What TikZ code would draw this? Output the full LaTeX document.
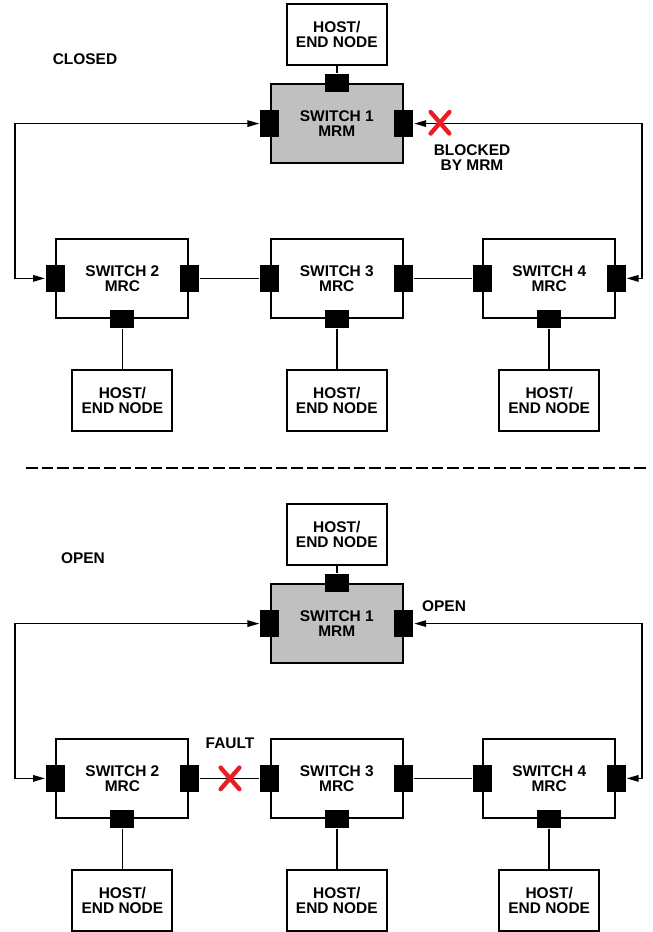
\documentclass[tikz,border=0pt]{standalone}
\usepackage{fontspec}
\setmainfont{Liberation Sans}
\usetikzlibrary{arrows.meta,shapes.misc}
\definecolor{swgray}{RGB}{192,192,192}
\definecolor{xred}{RGB}{237,28,36}

\begin{document}
\begin{tikzpicture}[
  line width=1.2pt,  font=\fontsize{11}{10.8}\selectfont\bfseries,
  switch/.style={rectangle,draw,line width=1.4pt,minimum width=3.3cm,minimum height=1.975cm,inner sep=0pt,align=center},
  mrm/.style={switch,fill=swgray},
  host/.style={rectangle,draw,line width=1.4pt,minimum width=2.5cm,minimum height=1.525cm,inner sep=0pt,align=center},
  sport/.style={rectangle,fill=black,inner sep=0pt,minimum width=0.475cm,minimum height=0.675cm},
  hport/.style={rectangle,fill=black,inner sep=0pt,minimum width=0.6cm,minimum height=0.45cm},
  link/.style={line width=1.2pt},
  ring/.style={link,{Triangle[length=0.3cm,width=0.16cm]}-{Triangle[length=0.3cm,width=0.16cm]}},
  xmark/.style={cross out,draw=xred,line width=3.1pt,line cap=round,minimum width=0.36cm,minimum height=0.43cm,inner sep=0pt},
  divider/.style={line width=1.9pt,dash pattern=on 0.29cm off 0.1cm},
  tag/.style={align=center,inner sep=0pt}
]
  \useasboundingbox (0,0) rectangle (16.3,23.3);
  % closed ring
  \node[tag] (closed) at (2.125,21.825) {CLOSED};
  \node[host] (ha1) at (8.42,22.44) {HOST/\\END NODE};
  \node[mrm] (a1) at (8.42,20.21) {SWITCH 1\\MRM};
  \node[switch] (a2) at (3.06,16.34) {SWITCH 2\\MRC};
  \node[switch] (a3) at (8.42,16.34) {SWITCH 3\\MRC};
  \node[switch] (a4) at (13.73,16.34) {SWITCH 4\\MRC};
  \node[host] (ha2) at (3.06,13.29) {HOST/\\END NODE};
  \node[host] (ha3) at (8.42,13.29) {HOST/\\END NODE};
  \node[host] (ha4) at (13.73,13.29) {HOST/\\END NODE};
  \node[hport] (a1n) at (a1.north) {};
  \node[sport] (a1w) at (a1.west) {};
  \node[sport] (a1e) at (a1.east) {};
  \node[sport] (a2w) at (a2.west) {};
  \node[sport] (a2e) at (a2.east) {};
  \node[sport] (a3w) at (a3.west) {};
  \node[sport] (a3e) at (a3.east) {};
  \node[sport] (a4w) at (a4.west) {};
  \node[sport] (a4e) at (a4.east) {};
  \node[hport] (a2s) at (a2.south) {};
  \node[hport] (a3s) at (a3.south) {};
  \node[hport] (a4s) at (a4.south) {};
  \coordinate (la) at (0.375,16.34);
  \coordinate (ra) at (16.05,16.34);
  \draw[link] (ha1) -- (a1n);
  \draw[ring] (a1w) -| (la) -- (a2w);
  \draw[ring] (a1e) -| (ra) -- (a4e);
  \draw[link] (a2e) -- (a3w);
  \draw[link] (a3e) -- (a4w);
  \draw[link] (a2s) -- (ha2);
  \draw[link] (a3s) -- (ha3);
  \draw[link] (a4s) -- (ha4);
  \node[xmark] (xa) at (11.0,20.23) {};
  \node[tag] (blocked) at (11.8,19.36) {BLOCKED\\BY MRM};

  \coordinate (dl) at (0.65,11.6);
  \coordinate (dr) at (16.15,11.6);
  \draw[divider] (dl) -- (dr);

  % open ring
  \node[tag] (open) at (2.075,9.35) {OPEN};
  \node[host] (hb1) at (8.42,9.94) {HOST/\\END NODE};
  \node[mrm] (b1) at (8.42,7.71) {SWITCH 1\\MRM};
  \node[switch] (b2) at (3.06,3.84) {SWITCH 2\\MRC};
  \node[switch] (b3) at (8.42,3.84) {SWITCH 3\\MRC};
  \node[switch] (b4) at (13.73,3.84) {SWITCH 4\\MRC};
  \node[host] (hb2) at (3.06,0.79) {HOST/\\END NODE};
  \node[host] (hb3) at (8.42,0.79) {HOST/\\END NODE};
  \node[host] (hb4) at (13.73,0.79) {HOST/\\END NODE};
  \node[hport] (b1n) at (b1.north) {};
  \node[sport] (b1w) at (b1.west) {};
  \node[sport] (b1e) at (b1.east) {};
  \node[sport] (b2w) at (b2.west) {};
  \node[sport] (b2e) at (b2.east) {};
  \node[sport] (b3w) at (b3.west) {};
  \node[sport] (b3e) at (b3.east) {};
  \node[sport] (b4w) at (b4.west) {};
  \node[sport] (b4e) at (b4.east) {};
  \node[hport] (b2s) at (b2.south) {};
  \node[hport] (b3s) at (b3.south) {};
  \node[hport] (b4s) at (b4.south) {};
  \coordinate (lb) at (0.375,3.84);
  \coordinate (rb) at (16.05,3.84);
  \draw[link] (hb1) -- (b1n);
  \draw[ring] (b1w) -| (lb) -- (b2w);
  \draw[ring] (b1e) -| (rb) -- (b4e);
  \draw[link] (b2e) -- (b3w);
  \draw[link] (b3e) -- (b4w);
  \draw[link] (b2s) -- (hb2);
  \draw[link] (b3s) -- (hb3);
  \draw[link] (b4s) -- (hb4);
  \node[tag] (openport) at (11.1,8.15) {OPEN};
  \node[tag] (fault) at (5.75,4.725) {FAULT};
  \node[xmark] (xb) at (5.75,3.84) {};
\end{tikzpicture}
\end{document}
